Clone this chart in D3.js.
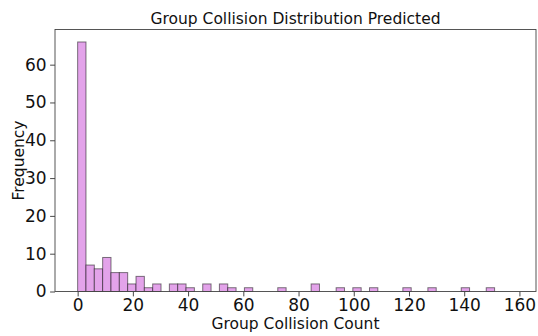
<!DOCTYPE html>
<html>
<head>
<meta charset="utf-8">
<script src="https://cdn.jsdelivr.net/npm/d3@7"></script>
<style>
  html, body { margin: 0; padding: 0; background: #fff; }
  svg { display: block; font-family: "DejaVu Sans", sans-serif; }
</style>
</head>
<body>
<svg id="chart" width="538" height="336"></svg>
<script>
// Histogram of group collision counts: 50 equal-width bins from 0 to ~151
const binStart = 0;
const binWidth = 3.02;
const binCounts = [
  66, 7, 6, 9, 5, 5, 2, 4, 1, 2,
  0, 2, 2, 1, 0, 2, 0, 2, 1, 0,
  1, 0, 0, 0, 1, 0, 0, 0, 2, 0,
  0, 1, 0, 1, 0, 1, 0, 0, 0, 1,
  0, 0, 1, 0, 0, 0, 1, 0, 0, 1
];
const xTicks = [0, 20, 40, 60, 80, 100, 120, 140, 160];
const yTicks = [0, 10, 20, 30, 40, 50, 60];
const titleText = "Group Collision Distribution Predicted";
const xLabelText = "Group Collision Count";
const yLabelText = "Frequency";

const svg = d3.select("#chart");
const plot = { left: 55, right: 536, top: 29.5, bottom: 291.5 };

const x = d3.scaleLinear().domain([-8.2, 166.0]).range([plot.left, plot.right]);
const yMax = d3.max(binCounts) * 1.05;
const y = d3.scaleLinear().domain([0, yMax]).range([plot.bottom, plot.top]);

const bins = binCounts.map((c, i) => ({
  x0: binStart + i * binWidth,
  x1: binStart + (i + 1) * binWidth,
  count: c
})).filter(d => d.count > 0);

// bars
svg.append("g")
  .selectAll("rect")
  .data(bins)
  .join("rect")
  .attr("x", d => x(d.x0))
  .attr("width", d => x(d.x1) - x(d.x0))
  .attr("y", d => y(d.count))
  .attr("height", d => y(0) - y(d.count))
  .attr("fill", "#e3a3ea")
  .attr("stroke", "#000")
  .attr("stroke-opacity", 0.5)
  .attr("stroke-width", 1);

// axes
const xAxis = d3.axisBottom(x).tickValues(xTicks).tickSize(4.9).tickPadding(2.5).tickSizeOuter(0);
const yAxis = d3.axisLeft(y).tickValues(yTicks).tickSize(4.9).tickPadding(3.5).tickSizeOuter(0);

const gx = svg.append("g").attr("transform", `translate(0,${plot.bottom})`).call(xAxis);
const gy = svg.append("g").attr("transform", `translate(${plot.left},0)`).call(yAxis);
[gx, gy].forEach(g => {
  g.select(".domain").remove();
  g.selectAll(".tick line").attr("stroke", "#333").attr("stroke-width", 0.9);
  g.selectAll(".tick text")
    .attr("fill", "#111")
    .style("font-family", "DejaVu Sans")
    .style("font-size", "17px");
});

// frame
svg.append("rect")
  .attr("x", plot.left).attr("y", plot.top)
  .attr("width", plot.right - plot.left).attr("height", plot.bottom - plot.top)
  .attr("fill", "none").attr("stroke", "#444").attr("stroke-width", 0.9);

// title and axis labels
svg.append("text")
  .attr("x", (plot.left + plot.right) / 2).attr("y", 24)
  .attr("text-anchor", "middle").attr("fill", "#111")
  .style("font-size", "15.5px")
  .text(titleText);

svg.append("text")
  .attr("x", (plot.left + plot.right) / 2).attr("y", 329)
  .attr("text-anchor", "middle").attr("fill", "#111")
  .style("font-size", "15.5px")
  .text(xLabelText);

svg.append("text")
  .attr("transform", `translate(24,${(plot.top + plot.bottom) / 2}) rotate(-90)`)
  .attr("text-anchor", "middle").attr("fill", "#111")
  .style("font-size", "15.5px")
  .text(yLabelText);
</script>
</body>
</html>
